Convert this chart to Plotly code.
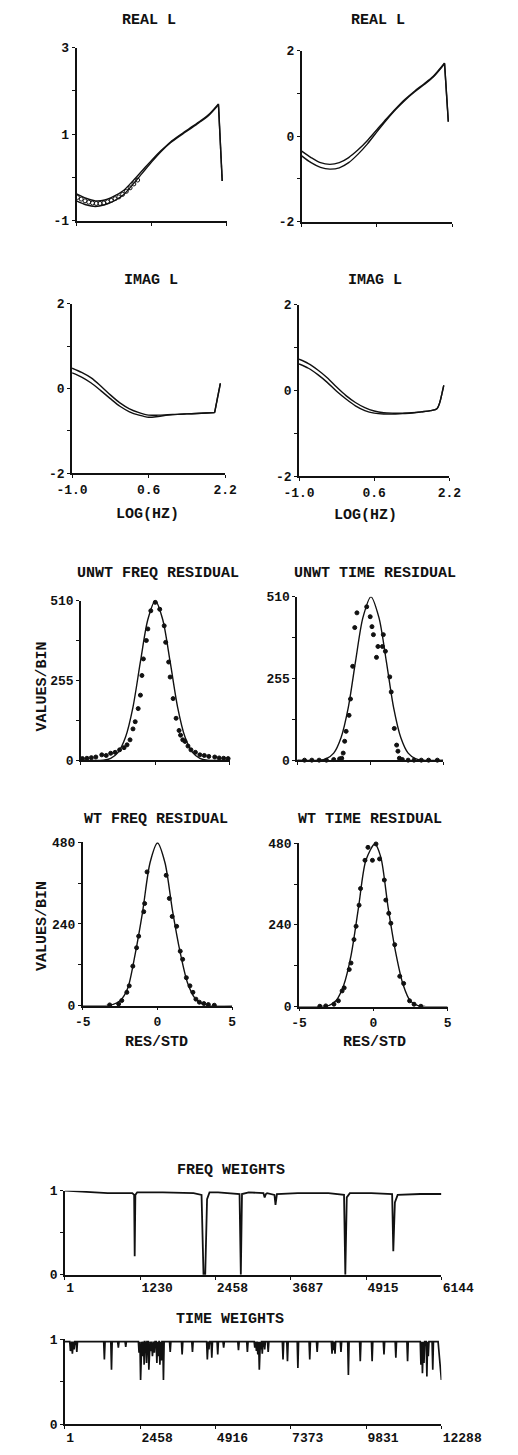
import plotly.graph_objects as go

W, H = 518, 1455
FONT = "Liberation Mono, DejaVu Sans Mono, monospace"
INK = "#111111"

# ---------------- data ----------------
# REAL L (left)
rl1_x = [-1.0, -0.8, -0.6, -0.4, -0.2, 0.0, 0.2, 0.4, 0.6, 0.8, 1.0, 1.2, 1.4, 1.6, 1.8, 2.02, 2.1]
rl1_up = [-0.38, -0.48, -0.54, -0.52, -0.43, -0.3, -0.08, 0.16, 0.4, 0.62, 0.82, 0.98, 1.13, 1.28, 1.44, 1.70, -0.08]
rl1_lo = [-0.54, -0.63, -0.67, -0.63, -0.54, -0.4, -0.16, 0.1, 0.36, 0.6, 0.8, 0.96, 1.11, 1.26, 1.42, 1.68, -0.08]
rl1_cx = [-0.98, -0.9, -0.82, -0.74, -0.66, -0.58, -0.5, -0.42, -0.34, -0.26, -0.18, -0.1, -0.02, 0.06, 0.14, 0.22, 0.3]
rl1_cy = [-0.46, -0.5, -0.54, -0.57, -0.59, -0.6, -0.6, -0.59, -0.56, -0.53, -0.49, -0.45, -0.39, -0.32, -0.24, -0.15, -0.06]

# REAL L (right)
rl2_x = [-1.0, -0.8, -0.6, -0.4, -0.2, 0.0, 0.2, 0.4, 0.6, 0.8, 1.0, 1.2, 1.4, 1.6, 1.8, 2.04, 2.12]
rl2_up = [-0.35, -0.5, -0.62, -0.66, -0.62, -0.5, -0.32, -0.1, 0.15, 0.4, 0.64, 0.86, 1.05, 1.22, 1.4, 1.71, 0.34]
rl2_lo = [-0.46, -0.62, -0.73, -0.77, -0.74, -0.62, -0.42, -0.18, 0.1, 0.37, 0.62, 0.84, 1.03, 1.2, 1.38, 1.69, 0.34]

# IMAG L (left)
il1_x = [-1.0, -0.8, -0.6, -0.4, -0.2, 0.0, 0.2, 0.4, 0.6, 0.8, 1.0, 1.2, 1.4, 1.6, 1.8, 1.98, 2.1]
il1_up = [0.48, 0.38, 0.25, 0.06, -0.15, -0.34, -0.48, -0.57, -0.63, -0.63, -0.62, -0.61, -0.6, -0.59, -0.58, -0.57, 0.12]
il1_lo = [0.37, 0.27, 0.13, -0.05, -0.24, -0.42, -0.55, -0.63, -0.68, -0.66, -0.63, -0.61, -0.6, -0.59, -0.58, -0.57, 0.12]

# IMAG L (right)
il2_x = [-1.0, -0.8, -0.6, -0.4, -0.2, 0.0, 0.2, 0.4, 0.6, 0.8, 1.0, 1.2, 1.4, 1.6, 1.8, 1.94, 2.04, 2.08]
il2_up = [0.73, 0.63, 0.48, 0.3, 0.08, -0.12, -0.28, -0.4, -0.48, -0.52, -0.53, -0.53, -0.52, -0.5, -0.47, -0.42, -0.08, 0.12]
il2_lo = [0.62, 0.52, 0.37, 0.19, -0.02, -0.2, -0.36, -0.47, -0.53, -0.55, -0.55, -0.54, -0.53, -0.5, -0.47, -0.42, -0.08, 0.12]

# UNWT FREQ RESIDUAL
uf_cx = [-5, -3.5, -3.0, -2.5, -2.0, -1.5, -1.0, -0.5, 0.0, 0.5, 1.0, 1.5, 2.0, 2.5, 3.0, 3.5, 5]
uf_cy = [0, 0, 6, 25, 74, 170, 315, 450, 510, 450, 315, 170, 74, 25, 6, 0, 0]
uf_px = [-4.9, -4.6, -4.3, -4.0, -3.6, -3.3, -3.0, -2.7, -2.4, -2.1, -1.9, -1.7, -1.5, -1.35, -1.15, -1.0,
         -0.9, -0.8, -0.6, -0.5, -0.3, 0.0, 0.3, 0.6, 0.7, 0.9, 1.0, 1.2, 1.4, 1.6, 1.7, 1.85, 2.0, 2.2,
         2.4, 2.7, 3.0, 3.3, 3.6, 4.0, 4.3, 4.6, 4.9, -0.05, 0.05]
uf_py = [5, 6, 8, 10, 17, 15, 22, 25, 33, 40, 49, 65, 100, 123, 165, 208,
         271, 324, 383, 420, 478, 505, 483, 430, 377, 314, 266, 197, 134, 95, 80, 65, 60, 45,
         33, 25, 17, 15, 12, 10, 7, 6, 5, 563, 541]

# UNWT TIME RESIDUAL
ut_cx = [-5, -3.5, -3.0, -2.5, -2.0, -1.5, -1.0, -0.5, 0.05, 0.6, 1.1, 1.6, 2.1, 2.6, 3.1, 3.6, 5]
ut_cy = [0, 0, 5, 22, 70, 165, 310, 445, 510, 445, 310, 165, 70, 22, 5, 0, 0]
ut_px = [-4.5, -4.0, -3.5, -3.0, -2.5, -2.1, -1.95, -1.85, -1.75, -1.65, -1.45, -1.35, -1.2, -1.06, -0.91,
         -0.6, -0.45, -0.3, -0.24, 0.0, 0.12, 0.22, 0.43, 0.53, 0.84, 0.9, 1.04, 1.34, 1.44, 1.65, 1.81,
         1.9, 2.0, 2.2, 2.6, 3.0, 3.5, 4.0, 4.6]
ut_py = [0, 0, 0, 0, 2, 4, 6, 22, 59, 90, 140, 191, 293, 414, 460,
         640, 618, 562, 479, 448, 417, 392, 321, 355, 355, 392, 340, 260, 213, 99, 47,
         28, 6, 2, 0, 0, 0, 0, 0]

# WT FREQ RESIDUAL
wf_cx = [-5, -3.5, -3.0, -2.5, -2.0, -1.5, -1.0, -0.5, 0.0, 0.5, 1.0, 1.5, 2.0, 2.5, 3.0, 3.5, 5]
wf_cy = [0, 0, 3, 14, 50, 150, 275, 420, 478, 420, 280, 160, 68, 22, 5, 0, 0]
wf_px = [-3.2, -2.6, -2.39, -2.05, -1.89, -1.65, -1.4, -1.26, -0.92, -0.86, -0.7, -0.21, 0.19, 0.58,
         0.79, 0.98, 1.28, 1.52, 1.68, 1.93, 2.17, 2.37, 2.57, 2.8, 3.1, 3.4, 3.8]
wf_py = [2, 5, 15, 39, 58, 116, 170, 204, 276, 300, 393, 490, 490, 383,
         315, 262, 233, 160, 136, 82, 58, 39, 19, 10, 6, 3, 1]

# WT TIME RESIDUAL
wt_cx = [-5, -3.5, -3.0, -2.5, -2.0, -1.5, -1.0, -0.5, 0.1, 0.5, 1.0, 1.5, 2.0, 2.5, 3.0, 3.5, 5]
wt_cy = [0, 0, 3, 18, 62, 150, 290, 430, 478, 440, 290, 160, 65, 16, 3, 0, 0]
wt_px = [-3.6, -3.2, -2.65, -2.35, -2.1, -1.96, -1.62, -1.5, -1.3, -1.16, -0.96, -0.86, -0.56, -0.36,
         -0.06, 0.04, 0.18, 0.42, 0.74, 0.84, 1.04, 1.18, 1.44, 1.78, 2.04, 2.44, 2.74, 3.2]
wt_py = [1, 2, 7, 17, 46, 55, 109, 128, 197, 236, 298, 347, 430, 468,
         430, 522, 478, 434, 372, 313, 274, 245, 182, 89, 68, 17, 7, 1]

# FREQ WEIGHTS
fw_idx = [1, 300, 700, 1100, 1130, 1139, 1150, 1180, 1600, 2100, 2230, 2262, 2290, 2320, 2360, 2500,
          2850, 2871, 2890, 3000, 3240, 3260, 3280, 3300, 3420, 3437, 3460, 3800, 4300, 4555, 4576, 4600,
          4650, 5000, 5340, 5359, 5385, 5430, 5800, 6144]
fw_val = [1.0, 0.99, 0.97, 0.97, 0.95, 0.22, 0.95, 0.98, 0.98, 0.97, 0.95, 0.0, 0.0, 0.9, 0.98, 0.98,
          0.96, 0.0, 0.96, 0.98, 0.97, 0.92, 0.96, 0.97, 0.95, 0.83, 0.96, 0.97, 0.97, 0.95, 0.0, 0.92,
          0.97, 0.97, 0.96, 0.28, 0.86, 0.95, 0.96, 0.96]

# TIME WEIGHTS (spike positions and their minimum values)
tw_spike_idx = [180, 243, 300, 388, 1288, 1520, 1744, 1985, 2420, 2470, 2530, 2586, 2620, 2664, 2700,
                2740, 2800, 2856, 2920, 3001, 3050, 3100, 3147, 3190, 3216,
                3437, 3826, 4163, 4648, 4700, 4794, 4988, 5181, 5665, 5956, 6198, 6250, 6296, 6345,
                6400, 6441, 6520, 6635, 7119, 7264, 7604, 7991, 8233, 8718, 8760, 8815, 9010, 9252,
                9640, 10027, 10414, 10801, 11184, 11620, 11669, 11720, 11814, 11860, 12006]
tw_spike_val = [0.86, 0.83, 0.88, 0.85, 0.76, 0.64, 0.9, 0.91, 0.84, 0.52, 0.8, 0.70, 0.84, 0.72, 0.82,
                0.64, 0.86, 0.80, 0.84, 0.72, 0.8, 0.70, 0.75, 0.78, 0.52,
                0.85, 0.82, 0.85, 0.76, 0.88, 0.78, 0.82, 0.9, 0.87, 0.85, 0.9, 0.86, 0.82, 0.64,
                0.88, 0.83, 0.88, 0.85, 0.76, 0.74, 0.66, 0.76, 0.85, 0.83, 0.87, 0.83, 0.85, 0.58,
                0.74, 0.74, 0.82, 0.78, 0.74, 0.7, 0.6, 0.72, 0.56, 0.8, 0.64]
tw_base = 0.97
tw_start, tw_end_knee, tw_end, tw_end_val = 1, 12180, 12288, 0.52

# ---------------- figure ----------------
fig = go.Figure()

dom = {
    1: ((68, 237), (42, 217)),
    2: ((321, 490), (45, 218)),
    3: ((63, 235), (301, 472)),
    4: ((318, 487), (302, 475)),
    5: ((73, 240), (601, 762)),
    6: ((316, 480), (597, 762)),
    7: ((75, 243), (845, 1010)),
    8: ((318, 485), (846, 1011)),
    9: ((55, 478), (1197, 1282)),
    10: ((55, 478), (1347, 1433)),
}


def line(x, y, i, w=1.4, shape="linear"):
    fig.add_trace(go.Scatter(x=x, y=y, mode="lines",
                             line=dict(color=INK, width=w, shape=shape, smoothing=0.8),
                             xaxis=f"x{i}", yaxis=f"y{i}", showlegend=False, cliponaxis=False))


def curve_with_drop(x, y, i):
    # smooth body, straight final drop
    line(x[:-1], y[:-1], i, shape="spline")
    line(x[-2:], y[-2:], i)


def pts(x, y, i, size=4, symbol="circle"):
    fig.add_trace(go.Scatter(x=x, y=y, mode="markers",
                             marker=dict(color=INK, size=size, symbol=symbol,
                                         line=dict(color=INK, width=1)),
                             xaxis=f"x{i}", yaxis=f"y{i}", showlegend=False, cliponaxis=False))


curve_with_drop(rl1_x, rl1_up, 1); curve_with_drop(rl1_x, rl1_lo, 1)
pts(rl1_cx, rl1_cy, 1, size=4, symbol="circle-open")
curve_with_drop(rl2_x, rl2_up, 2); curve_with_drop(rl2_x, rl2_lo, 2)
curve_with_drop(il1_x, il1_up, 3); curve_with_drop(il1_x, il1_lo, 3)
curve_with_drop(il2_x, il2_up, 4); curve_with_drop(il2_x, il2_lo, 4)
line(uf_cx, uf_cy, 5, shape="spline"); pts(uf_px, uf_py, 5)
line(ut_cx, ut_cy, 6, shape="spline"); pts(ut_px, ut_py, 6)
line(wf_cx, wf_cy, 7, shape="spline"); pts(wf_px, wf_py, 7)
line(wt_cx, wt_cy, 8, shape="spline"); pts(wt_px, wt_py, 8)
line(fw_idx, fw_val, 9, w=1.8)

tw_x, tw_y = [tw_start], [tw_base]
for s, v in zip(tw_spike_idx, tw_spike_val):
    tw_x += [s - 22, s, s + 22]
    tw_y += [tw_base, v, tw_base]
tw_x += [tw_end_knee, tw_end]
tw_y += [tw_base, tw_end_val]
line(tw_x, tw_y, 10, w=1.7)

tickfont = dict(family=FONT, size=13, color=INK, weight="bold")


def axes(i, xr, yr, xt=None, xtt=None, yt=None, ytt=None, yminor=None, xlabpos="outside"):
    (x0, x1), (y0, y1) = dom[i]
    xa = dict(domain=[x0 / W, x1 / W], anchor=f"y{i}", range=xr, showline=True, linecolor=INK,
              linewidth=1.6, showgrid=False, zeroline=False, ticks="outside", ticklen=3,
              tickcolor=INK, tickfont=tickfont, fixedrange=True, ticklabelposition=xlabpos)
    if xt is not None:
        xa.update(tickmode="array", tickvals=xt, ticktext=xtt if xtt else [""] * len(xt))
    ya = dict(domain=[1 - y1 / H, 1 - y0 / H], anchor=f"x{i}", range=yr, showline=True, linecolor=INK,
              linewidth=1.6, showgrid=False, zeroline=False, ticks="outside", ticklen=3,
              tickcolor=INK, tickfont=tickfont, fixedrange=True, tickmode="array",
              tickvals=yt, ticktext=ytt)
    if yminor is not None:
        ya["minor"] = dict(tickvals=yminor, ticks="outside", ticklen=3, tickcolor=INK)
    fig.update_layout(**{f"xaxis{'' if i == 1 else i}": xa, f"yaxis{'' if i == 1 else i}": ya})


logx = [-1.0, 0.6, 2.2]
axes(1, [-1, 2.2], [-1, 3], xt=logx, yt=[-1, 1, 3], ytt=["-1", "1", "3"], yminor=[0, 2])
axes(2, [-1, 2.2], [-2, 2], xt=logx, yt=[-2, 0, 2], ytt=["-2", "0", "2"], yminor=[-1, 1])
axes(3, [-1, 2.2], [-2, 2], xt=logx, xtt=["-1.0", "0.6", "2.2"], yt=[-2, 0, 2], ytt=["-2", "0", "2"], yminor=[-1, 1])
axes(4, [-1, 2.2], [-2, 2], xt=logx, xtt=["-1.0", "0.6", "2.2"], yt=[-2, 0, 2], ytt=["-2", "0", "2"], yminor=[-1, 1])
resx = [-5, 0, 5]
axes(5, [-5, 5], [0, 510], xt=resx, yt=[0, 255, 510], ytt=["0", "255", "510"], yminor=[127.5, 382.5])
axes(6, [-5, 5], [0, 510], xt=resx, yt=[0, 255, 510], ytt=["0", "255", "510"], yminor=[127.5, 382.5])
axes(7, [-5, 5], [0, 480], xt=resx, xtt=["-5", "0", "5"], yt=[0, 240, 480], ytt=["0", "240", "480"], yminor=[120, 360])
axes(8, [-5, 5], [0, 480], xt=resx, xtt=["-5", "0", "5"], yt=[0, 240, 480], ytt=["0", "240", "480"], yminor=[120, 360])
fwt = [1, 1230, 2458, 3687, 4915, 6144]
axes(9, [1, 6144], [0, 1], xt=fwt, xtt=[str(v) for v in fwt], yt=[0, 1], ytt=["0", "1"], yminor=[0.5],
     xlabpos="outside right")
twt = [1, 2458, 4916, 7373, 9831, 12288]
axes(10, [1, 12288], [0, 1], xt=twt, xtt=[str(v) for v in twt], yt=[0, 1], ytt=["0", "1"], yminor=[0.5],
     xlabpos="outside right")

titlefont = dict(family=FONT, size=15, color=INK, weight="bold")
labels = [
    ("REAL L", 150, 15, 0), ("REAL L", 407, 15, 0),
    ("IMAG L", 152, 277, 0), ("IMAG L", 403, 277, 0),
    ("LOG(HZ)", 148, 514, 0), ("LOG(HZ)", 393, 515, 0),
    ("UNWT FREQ RESIDUAL", 160, 573, 0), ("UNWT TIME RESIDUAL", 403, 573, 0),
    ("WT FREQ RESIDUAL", 157, 822, 0), ("WT TIME RESIDUAL", 398, 822, 0),
    ("RES/STD", 158, 1047, 0), ("RES/STD", 403, 1047, 0),
    ("VALUES/BIN", 30, 688, -90), ("VALUES/BIN", 30, 930, -90),
    ("FREQ WEIGHTS", 242, 1177, 0), ("TIME WEIGHTS", 241, 1327, 0),
]
for t, x, y, ang in labels:
    fig.add_annotation(text=t, x=x / W, y=1 - y / H, xref="paper", yref="paper", showarrow=False,
                       xanchor="center", yanchor="middle", textangle=ang, font=titlefont)

fig.update_layout(width=W, height=H, margin=dict(l=0, r=0, t=0, b=0),
                  paper_bgcolor="white", plot_bgcolor="white", showlegend=False)

fig.write_html("out.html", config={"displayModeBar": False})
